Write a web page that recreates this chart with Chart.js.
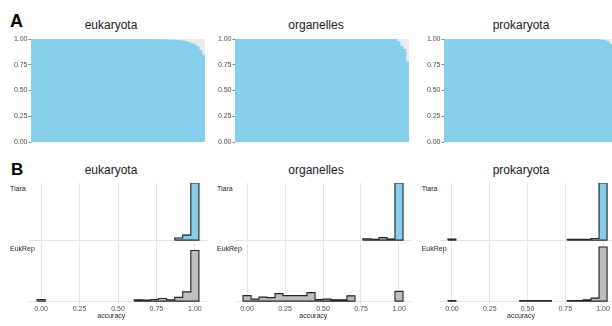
<!DOCTYPE html>
<html>
<head>
<meta charset="utf-8">
<script src="https://cdn.jsdelivr.net/npm/chart.js@4.4.1/dist/chart.umd.min.js"></script>
<style>
  body { margin: 0; width: 612px; height: 326px; overflow: hidden; background: #fff; position: relative;
         font-family: "Liberation Sans", Arial, sans-serif; }
  canvas, .lbl { position: absolute; }
  .tag { font-weight: bold; color: #000; }
  .title { font-size: 12px; line-height: 14px; color: #1a1a1a; text-align: center; width: 100px; }
  .facet { font-size: 7px; line-height: 9px; color: #1a1a1a; }
  .xlab { font-size: 7px; line-height: 9px; color: #1a1a1a; text-align: center; width: 60px; }
</style>
</head>
<body>
<div class="lbl tag" style="left:10px;top:11.6px;font-size:18px;line-height:18px">A</div>
<div class="lbl tag" style="left:11px;top:160.6px;font-size:17px;line-height:17px">B</div>

<div class="lbl title" style="left:61px;top:18.2px">eukaryota</div>
<div class="lbl title" style="left:266px;top:18.2px">organelles</div>
<div class="lbl title" style="left:471px;top:18.2px">prokaryota</div>
<div class="lbl title" style="left:61px;top:162.8px">eukaryota</div>
<div class="lbl title" style="left:266px;top:162.8px">organelles</div>
<div class="lbl title" style="left:471px;top:162.8px">prokaryota</div>

<script>
// panel A: per-sample share of correctly classified sequences, sorted
const eukAccuracy = [
  1, 1, 1, 1, 1, 1, 1, 1, 1, 1,
  1, 1, 1, 1, 1, 1, 1, 1, 1, 1,
  1, 1, 1, 1, 1, 1, 1, 1, 1, 1,
  1, 1, 1, 0.999, 0.999, 0.998, 0.998, 0.998, 0.997, 0.997,
  0.996, 0.996, 0.995, 0.995, 0.994, 0.994, 0.993, 0.992, 0.991, 0.99,
  0.988, 0.985, 0.981, 0.975, 0.967, 0.955, 0.945, 0.925, 0.89, 0.845
];
const organelleAccuracy = [
  1, 1, 1, 1, 1, 1, 1, 1, 1, 1,
  1, 1, 1, 1, 1, 1, 1, 1, 1, 1,
  1, 1, 1, 1, 1, 1, 1, 1, 1, 1,
  1, 1, 1, 1, 1, 1, 1, 1, 1, 1,
  1, 1, 1, 1, 1, 1, 1, 1, 1, 1,
  1, 1, 1, 1, 0.975, 0.93, 0.9, 0.78
];
const prokAccuracy = [
  1, 1, 1, 1, 1, 1, 1, 1, 1, 1,
  1, 1, 1, 1, 1, 1, 1, 1, 1, 1,
  1, 1, 1, 1, 1, 1, 1, 1, 1, 1,
  1, 1, 1, 1, 1, 1, 1, 1, 1, 1,
  1, 1, 1, 1, 1, 1, 1, 1, 1, 1,
  0.999, 0.999, 0.998, 0.997, 0.996, 0.994, 0.99, 0.985, 0.975, 0.95
];

// panel B: histogram of accuracy (20 bins), counts per bin
const binCenters = [0, 0.053, 0.105, 0.158, 0.211, 0.263, 0.316, 0.368, 0.421, 0.474,
                    0.526, 0.579, 0.632, 0.684, 0.737, 0.789, 0.842, 0.895, 0.947, 1];
const xBreaks = [0, 0.25, 0.5, 0.75, 1];

const eukTiara  = [null, null, null, null, null, null, null, null, null, null,
                   null, null, null, null, null, null, null, 2.2, 5, 57];
const eukEukRep = [1.7, null, null, null, null, null, null, null, null, null,
                   null, null, 1.3, 1.1, 1.6, 2.6, 1.4, 3.8, 9.2, 50.5];
const orgTiara  = [null, null, null, null, null, null, null, null, null, null,
                   null, null, null, null, null, 1.4, 0.8, 2.5, 1.2, 57];
const orgEukRep = [5.5, 2, 4, 3.5, 7.5, 5.5, 5.5, 5.5, 8.5, 1.5,
                   2, 1.3, 1.3, 5.3, null, null, null, null, null, 9.7];
const prokTiara  = [1, null, null, null, null, null, null, null, null, null,
                    null, null, null, null, null, 0.8, 0.8, 0.8, 1.7, 57];
const prokEukRep = [0.6, null, null, null, null, null, null, null, null, 0.6,
                    0.6, 0.6, 0.6, null, null, 0.5, 0.6, 1.3, 3, 54];

Chart.defaults.font.family = '"Liberation Sans", Arial, sans-serif';
Chart.defaults.animation = false;
Chart.defaults.events = [];
Chart.defaults.plugins.legend.display = false;
Chart.defaults.plugins.tooltip.enabled = false;

// grey panel behind the bars, between y = 0 and y = 1
const panelBg = {
  id: 'panelBg',
  beforeDatasetsDraw(chart) {
    const { ctx, chartArea, scales } = chart;
    const top = scales.y.getPixelForValue(1);
    const bottom = scales.y.getPixelForValue(0);
    ctx.save();
    ctx.fillStyle = '#ebebeb';
    ctx.fillRect(chartArea.left, top, chartArea.right - chartArea.left, bottom - top);
    ctx.restore();
  }
};

function makeCanvas(left, top, w, h) {
  const cv = document.createElement('canvas');
  cv.width = w; cv.height = h;
  cv.style.left = left + 'px'; cv.style.top = top + 'px';
  cv.style.width = w + 'px'; cv.style.height = h + 'px';
  document.body.appendChild(cv);
  return cv;
}

function addLabel(cls, text, left, top) {
  const d = document.createElement('div');
  d.className = 'lbl ' + cls;
  d.textContent = text;
  d.style.left = left + 'px'; d.style.top = top + 'px';
  document.body.appendChild(d);
}

function accuracyChart(values, left, width, axisWidth) {
  return new Chart(makeCanvas(left, 30, width, 121), {
    type: 'bar',
    data: {
      labels: values.map((v, i) => i + 1),
      datasets: [{
        data: values,
        backgroundColor: '#87ceeb',
        borderWidth: 0,
        barPercentage: 1,
        categoryPercentage: 1
      }]
    },
    options: {
      responsive: false,
      layout: { padding: { top: 9, bottom: 9, left: 0, right: 0 } },
      scales: {
        x: { display: false },
        y: {
          min: 0, max: 1,
          border: { display: false },
          grid: { drawOnChartArea: false, tickLength: 2.5, color: '#4d4d4d', lineWidth: 0.7 },
          ticks: { stepSize: 0.25, padding: 1, color: '#4d4d4d', font: { size: 7 },
                   callback: v => v.toFixed(2) },
          afterFit: s => { s.width = axisWidth; }
        }
      }
    },
    plugins: [panelBg]
  });
}

// outer outline of the histogram: one closed step path per run of filled bins
const halfBin = (binCenters[binCenters.length - 1] - binCenters[0]) / (binCenters.length - 1) / 2;
function outlinePoints(counts) {
  const pts = [];
  let runStart = null;
  counts.forEach((h, i) => {
    if (h === null) return;
    const left = binCenters[i] - halfBin;
    const right = binCenters[i] + halfBin;
    if (i === 0 || counts[i - 1] === null) {
      runStart = left;
      pts.push({ x: left, y: 0 });
    }
    pts.push({ x: left, y: h });
    if (i === counts.length - 1 || counts[i + 1] === null) {
      pts.push({ x: right, y: h }, { x: right, y: 0 }, { x: runStart, y: 0 }, { x: right, y: null });
    }
  });
  return pts;
}

function histChart(counts, yTop, color, left, width, top, showAxis) {
  return new Chart(makeCanvas(left, top, width, showAxis ? 84 : 62), {
    type: 'bar',
    data: {
      datasets: [{
        type: 'line',
        order: 0,
        data: outlinePoints(counts),
        stepped: 'before',
        borderColor: '#262626',
        borderWidth: 1.1,
        pointRadius: 0,
        fill: false,
        spanGaps: false
      }, {
        order: 1,
        data: binCenters.map((x, i) => ({ x: x, y: counts[i] })),
        backgroundColor: color,
        borderWidth: 0,
        barPercentage: 1,
        categoryPercentage: 1
      }]
    },
    options: {
      responsive: false,
      layout: { padding: { top: 2, bottom: 0, left: 0, right: 0 } },
      scales: {
        x: {
          type: 'linear', min: -0.079, max: 1.079, offset: false,
          afterBuildTicks: s => { s.ticks = xBreaks.map(v => ({ value: v })); },
          border: { display: false },
          grid: { color: '#e4e4e4', drawTicks: false, offset: false },
          ticks: { display: showAxis, padding: 1, color: '#4d4d4d', font: { size: 7 },
                   callback: v => v.toFixed(2) },
          afterFit: s => { s.height = showAxis ? 22 : 0; }
        },
        y: {
          min: -0.05 * yTop, max: yTop,
          afterBuildTicks: s => { s.ticks = [{ value: 0 }]; },
          border: { display: false },
          grid: { color: '#e4e4e4', drawTicks: false },
          ticks: { display: false },
          afterFit: s => { s.width = 0; }
        }
      }
    }
  });
}

function maxOf(a, b) {
  return Math.max(...a.concat(b).filter(v => v !== null));
}

accuracyChart(eukAccuracy, 0, 205, 31);
accuracyChart(organelleAccuracy, 206, 203, 29);
accuracyChart(prokAccuracy, 410, 202, 34);

const columns = [
  { tiara: eukTiara, eukrep: eukEukRep, left: 29, width: 178, labelX: 10, titleX: 81.3 },
  { tiara: orgTiara, eukrep: orgEukRep, left: 235, width: 176, labelX: 217, titleX: 283.3 },
  { tiara: prokTiara, eukrep: prokEukRep, left: 440, width: 175, labelX: 421.7, titleX: 491 }
];

columns.forEach(c => {
  const top = maxOf(c.tiara, c.eukrep);
  histChart(c.tiara, top, '#87ceeb', c.left, c.width, 181, false);
  histChart(c.eukrep, top, '#bebebe', c.left, c.width, 242, true);
  addLabel('facet', 'Tiara', c.labelX, 184.3);
  addLabel('facet', 'EukRep', c.labelX, 243.9);
  addLabel('xlab', 'accuracy', c.titleX, 310.8);
});
</script>
</body>
</html>
